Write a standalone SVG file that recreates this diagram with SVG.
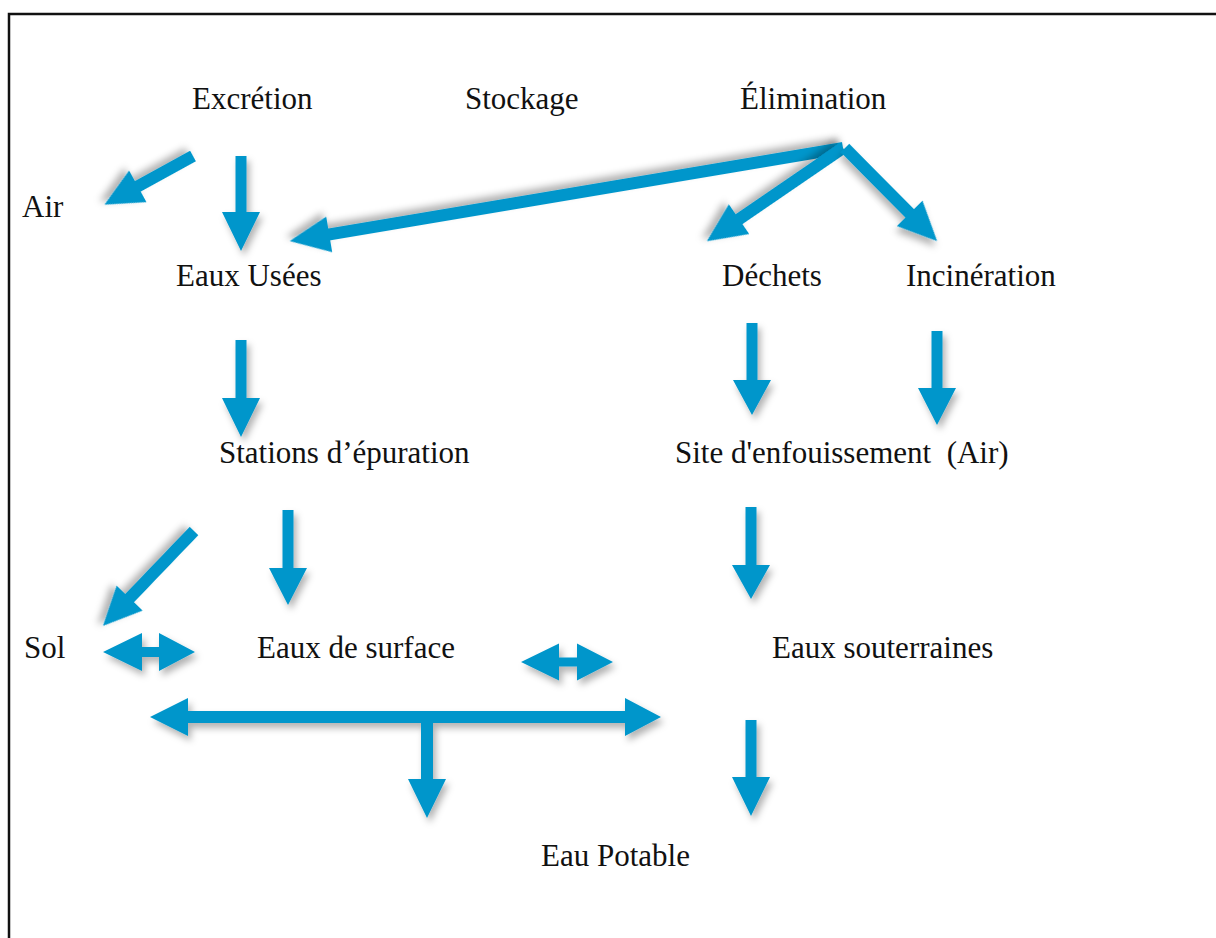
<svg xmlns="http://www.w3.org/2000/svg" width="1216" height="938" viewBox="0 0 1216 938">
  <defs>
    <filter id="sh" x="-20%" y="-20%" width="150%" height="150%">
      <feDropShadow dx="3" dy="5" stdDeviation="3.5" flood-color="#000" flood-opacity="0.3"/>
    </filter>
    <style>
      .t { font-family: "Liberation Serif", "Times New Roman", serif; font-size: 31px; fill: #111; }
      .a { fill: #0096cb; filter: url(#sh); }
    </style>
  </defs>
  <rect x="0" y="0" width="1216" height="938" fill="#fff"/>
  <rect x="9" y="14" width="1300" height="1000" fill="none" stroke="#111" stroke-width="2.5"/>

  <g id="excretion"><text class="t" x="192" y="109">Excrétion</text></g>
  <g id="stockage"><text class="t" x="465" y="109">Stockage</text></g>
  <g id="elimination"><text class="t" x="740" y="109">Élimination</text></g>
  <g id="air"><text class="t" x="22" y="217">Air</text></g>
  <g id="eaux-usees"><text class="t" x="176" y="286">Eaux Usées</text></g>
  <g id="dechets"><text class="t" x="722" y="286">Déchets</text></g>
  <g id="incineration"><text class="t" x="906" y="286">Incinération</text></g>
  <g id="stations"><text class="t" x="219" y="463">Stations d’épuration</text></g>
  <g id="site"><text class="t" x="675" y="463" xml:space="preserve">Site d'enfouissement  (Air)</text></g>
  <g id="sol"><text class="t" x="24" y="658">Sol</text></g>
  <g id="eaux-surface"><text class="t" x="257" y="658">Eaux de surface</text></g>
  <g id="eaux-souterraines"><text class="t" x="772" y="658">Eaux souterraines</text></g>
  <g id="eau-potable"><text class="t" x="541" y="866">Eau Potable</text></g>

  <g id="connectors">
    <!-- Excrétion -> Air -->
    <path class="a" transform="translate(193,156) rotate(151.2)" d="M0,-6 H63 V-18 L101,0 L63,18 V6 H0 Z"/>
    <!-- Excrétion -> Eaux Usées -->
    <path class="a" d="M235.5,156 H246.5 V212 H260 L241,251 L222,212 H235.5 Z"/>
    <!-- Élimination -> Eaux Usées -->
    <path class="a" transform="translate(843,148) rotate(170.45)" d="M0,-6 H521 V-18 L561,0 L521,18 V6 H0 Z"/>
    <!-- Élimination -> Déchets -->
    <path class="a" transform="translate(843,148) rotate(145.6)" d="M0,-6 H126 V-18 L165,0 L126,18 V6 H0 Z"/>
    <!-- Élimination -> Incinération -->
    <path class="a" transform="translate(845,148) rotate(45.3)" d="M0,-6 H92 V-18 L131,0 L92,18 V6 H0 Z"/>
    <!-- Eaux Usées -> Stations -->
    <path class="a" d="M235.5,340 H246.5 V398 H260 L241,437 L222,398 H235.5 Z"/>
    <!-- Déchets -> Site -->
    <path class="a" d="M746.5,323 H757.5 V380 H771 L752,415 L733,380 H746.5 Z"/>
    <!-- Incinération -> Site -->
    <path class="a" d="M931.5,331 H942.5 V388 H956 L937,425 L918,388 H931.5 Z"/>
    <!-- Stations -> Sol -->
    <path class="a" transform="translate(194,531) rotate(133.8)" d="M0,-6 H93 V-18 L131.5,0 L93,18 V6 H0 Z"/>
    <!-- Stations -> Eaux de surface -->
    <path class="a" d="M282.5,510 H293.5 V568 H307 L288,605 L269,568 H282.5 Z"/>
    <!-- Sol <-> Eaux de surface -->
    <path class="a" d="M103,652 L142,633 V647 H159 V633 L195,652 L159,671 V657 H142 V671 Z"/>
    <!-- Eaux de surface <-> Eaux souterraines -->
    <path class="a" d="M521,662 L559,643.5 V657.5 H577 V643.5 L613,662 L577,680.5 V666.5 H559 V680.5 Z"/>
    <!-- Long double arrow with branch to Eau Potable -->
    <path class="a" d="M150,717 L188,698 V711 H625 V698 L661,717 L625,736 V723 H433 V779 H446 L427,818 L408,779 H421 V723 H188 V736 Z"/>
    <!-- Site -> Eaux souterraines -->
    <path class="a" d="M745.5,507 H756.5 V565 H770 L751,599 L732,565 H745.5 Z"/>
    <!-- Eaux souterraines -> Eau Potable -->
    <path class="a" d="M745.5,720 H756.5 V777 H770 L751,816 L732,777 H745.5 Z"/>
  </g>
</svg>
